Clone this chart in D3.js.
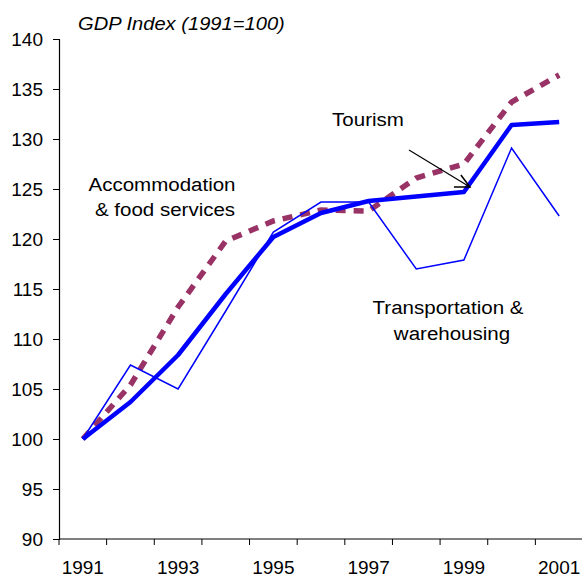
<!DOCTYPE html>
<html>
<head>
<meta charset="utf-8">
<script src="https://cdn.jsdelivr.net/npm/d3@7"></script>
<style>
  body { margin: 0; background: #fff; }
  svg { font-family: "Liberation Sans", Arial, sans-serif; }
</style>
</head>
<body>
<svg id="chart" width="582" height="577"></svg>
<script>
const years = [1991, 1992, 1993, 1994, 1995, 1996, 1997, 1998, 1999, 2000, 2001];
const yearLabels = [1991, 1993, 1995, 1997, 1999, 2001];
const yTicks = [90, 95, 100, 105, 110, 115, 120, 125, 130, 135, 140];

const tourism = [100, 103.7, 108.4, 114.5, 120.2, 122.6, 123.8, 124.25, 124.7, 131.4, 131.7];
const transportation = [100, 107.4, 105.0, 112.8, 120.7, 123.7, 123.7, 117.0, 117.9, 129.1, 122.3];
const accommodation = [100, 105.4, 113.2, 119.8, 121.8, 122.9, 122.8, 126.1, 127.5, 133.7, 136.4];

const svg = d3.select('#chart');
const margin = {left: 59, top: 39, right: 0, bottom: 38};
const width = 583 - margin.left;
const height = 539 - margin.top;
const fs = 19;

const g = svg.append('g').attr('transform', `translate(${margin.left},${margin.top})`);

const x = d3.scaleBand().domain(years).range([0, width]);
const y = d3.scaleLinear().domain([90, 140]).range([height, 0]);
const cx = yr => x(yr) + x.bandwidth() / 2;

// y axis
const yAxis = g.append('g')
    .call(d3.axisLeft(y).tickValues(yTicks).tickSize(6).tickPadding(10).tickFormat(d3.format('d')));
yAxis.select('.domain').attr('stroke', '#000').attr('stroke-width', 1.2);
yAxis.selectAll('.tick line').attr('stroke', '#000');
yAxis.selectAll('.tick text').attr('font-size', fs).attr('fill', '#000')
    .attr('font-family', '"Liberation Sans", Arial, sans-serif');

// x axis: ticks at band boundaries, labels every other year
const xAxis = g.append('g').attr('transform', `translate(0,${height})`);
xAxis.append('line').attr('x1', 0).attr('x2', width).attr('stroke', '#000').attr('stroke-width', 1.2);
xAxis.selectAll('.xt').data(years.concat([2002])).enter().append('line')
    .attr('class', 'xt')
    .attr('x1', (d, i) => i * x.bandwidth()).attr('x2', (d, i) => i * x.bandwidth())
    .attr('y1', 0).attr('y2', 6).attr('stroke', '#000');
xAxis.selectAll('.xl').data(yearLabels).enter().append('text')
    .attr('class', 'xl')
    .attr('x', d => cx(d)).attr('y', 35)
    .attr('text-anchor', 'middle').attr('font-size', fs).attr('fill', '#000')
    .text(d => d);

const line = d3.line().x((d, i) => cx(years[i])).y(d => y(d));

g.append('path').datum(accommodation).attr('d', line)
    .attr('fill', 'none').attr('stroke', '#993366').attr('stroke-width', 5.5)
    .attr('stroke-dasharray', '10,8');

g.append('path').datum(transportation).attr('d', line)
    .attr('fill', 'none').attr('stroke', '#0000ff').attr('stroke-width', 1.5)
    .attr('stroke-linejoin', 'miter');

g.append('path').datum(tourism).attr('d', line)
    .attr('fill', 'none').attr('stroke', '#0000ff').attr('stroke-width', 4.5)
    .attr('stroke-linejoin', 'round');

// labels
svg.append('text').attr('transform', 'translate(78,30) scale(1.06,1)').attr('font-size', fs)
    .attr('font-style', 'italic').text('GDP Index (1991=100)');

const labels = [
  {t: 'Accommodation', x: 162, y: 191},
  {t: '& food services', x: 165, y: 216},
  {t: 'Tourism', x: 368, y: 126},
  {t: 'Transportation &', x: 448, y: 314},
  {t: 'warehousing', x: 452, y: 340}
];
svg.selectAll('.lab').data(labels).enter().append('text')
    .attr('class', 'lab').attr('transform', d => `translate(${d.x},${d.y}) scale(1.08,1)`)
    .attr('text-anchor', 'middle').attr('font-size', fs).text(d => d.t);

// arrow pointing at Tourism 1999
const tipX = margin.left + cx(1999) + 6;
const tipY = margin.top + y(tourism[8]) - 5;
svg.append('line').attr('x1', 409).attr('y1', 150).attr('x2', tipX).attr('y2', tipY)
    .attr('stroke', '#000').attr('stroke-width', 1.2);
svg.append('path')
    .attr('d', `M${tipX - 16},${tipY} L${tipX},${tipY} L${tipX - 9},${tipY - 12}`)
    .attr('fill', 'none').attr('stroke', '#000').attr('stroke-width', 1.5);
</script>
</body>
</html>
